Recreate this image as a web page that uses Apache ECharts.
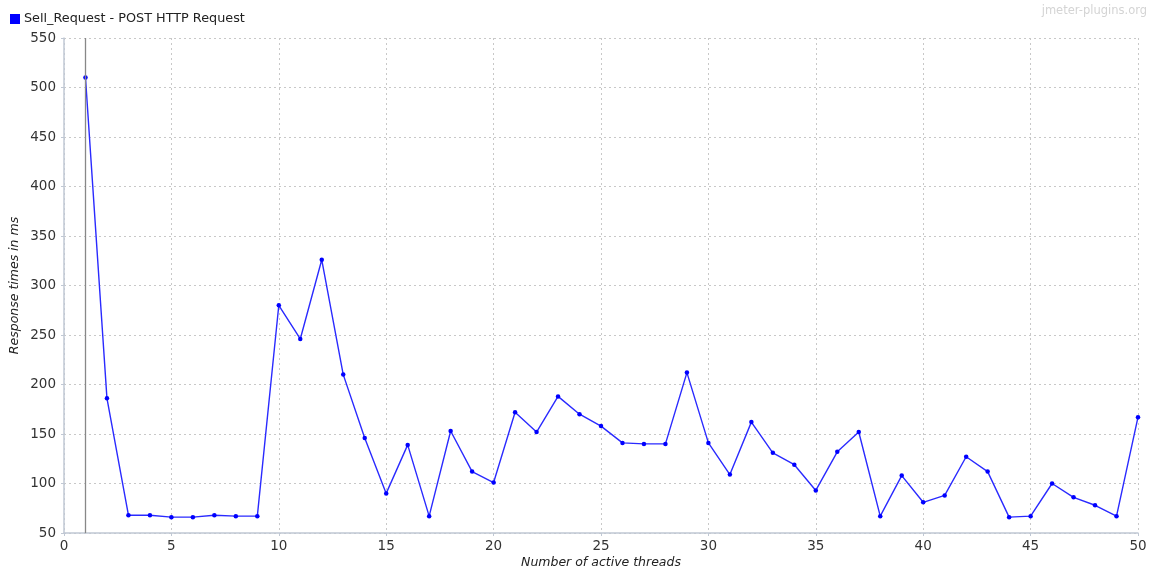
<!DOCTYPE html>
<html>
<head>
<meta charset="utf-8">
<script src="https://cdn.jsdelivr.net/npm/echarts@6/dist/echarts.min.js"></script>
<style>
  html, body { margin: 0; padding: 0; background: #fff; }
  #chart { width: 1155px; height: 574px; }
</style>
</head>
<body>
<div id="chart"></div>
<script>
// Response time per number of active threads
const seriesName = 'Sell_Request - POST HTTP Request';
const threads = [1, 2, 3, 4, 5, 6, 7, 8, 9, 10,
                 11, 12, 13, 14, 15, 16, 17, 18, 19, 20,
                 21, 22, 23, 24, 25, 26, 27, 28, 29, 30,
                 31, 32, 33, 34, 35, 36, 37, 38, 39, 40,
                 41, 42, 43, 44, 45, 46, 47, 48, 49, 50];
const responseMs = [510, 186, 68, 68, 66, 66, 68, 67, 67, 280,
                    246, 326, 210, 146, 90, 139, 67, 153, 112, 101,
                    172, 152, 188, 170, 158, 141, 140, 140, 212, 141,
                    109, 162, 131, 119, 93, 132, 152, 67, 108, 81,
                    88, 127, 112, 66, 67, 100, 86, 78, 67, 167];
const markerThread = 1;

const chart = echarts.init(document.getElementById('chart'), null, { renderer: 'canvas' });
const FONT = '"DejaVu Sans", Verdana, sans-serif';
const axisFont = { fontFamily: FONT, fontSize: 13.5, color: '#333' };
const nameFont = { fontFamily: FONT, fontSize: 12.5, fontStyle: 'italic', color: '#222' };

chart.setOption({
  animation: false,
  backgroundColor: '#fff',
  graphic: [
    { type: 'rect', left: 10, top: 14, shape: { width: 10, height: 10 }, style: { fill: '#0000ff' } },
    { type: 'text', left: 24, top: 12, style: { text: seriesName, font: '12.8px ' + FONT, fill: '#222' } },
    { type: 'text', right: 8, top: 5, style: { text: 'jmeter-plugins.org', font: '11.5px ' + FONT, fill: '#d4d4d4' } }
  ],
  grid: { left: 64, right: 17, top: 38, bottom: 41, containLabel: false, outerBoundsMode: 'none' },
  xAxis: {
    type: 'value', min: 0, max: 50, interval: 5,
    name: 'Number of active threads', nameLocation: 'middle', nameGap: 23, nameMoveOverlap: false,
    nameTextStyle: nameFont,
    axisLine: { show: true, lineStyle: { color: '#c0c8d4', width: 1.5 } },
    axisTick: { show: true, length: 3, lineStyle: { color: '#c0c8d4' } },
    axisLabel: Object.assign({ margin: 6 }, axisFont),
    splitLine: { show: true, lineStyle: { color: '#c8c8c8', type: [2, 3], width: 1 } }
  },
  yAxis: {
    type: 'value', min: 50, max: 550, interval: 50,
    name: 'Response times in ms', nameLocation: 'middle', nameGap: 43, nameRotate: 90, nameMoveOverlap: false,
    nameTextStyle: nameFont,
    axisLine: { show: true, lineStyle: { color: '#c0c8d4', width: 1.5 } },
    axisTick: { show: true, length: 3, lineStyle: { color: '#c0c8d4' } },
    axisLabel: Object.assign({ margin: 8 }, axisFont),
    splitLine: { show: true, lineStyle: { color: '#c8c8c8', type: [2, 3], width: 1 } }
  },
  series: [{
    name: seriesName,
    type: 'line',
    data: threads.map((t, i) => [t, responseMs[i]]),
    symbol: 'circle', symbolSize: 4.5,
    lineStyle: { color: '#2a2aff', width: 1.4 },
    itemStyle: { color: '#0000ff' },
    markLine: {
      silent: true, symbol: 'none', label: { show: false },
      lineStyle: { color: '#888', type: 'solid', width: 1.3 },
      data: [{ xAxis: markerThread }]
    }
  }]
});
</script>
</body>
</html>
